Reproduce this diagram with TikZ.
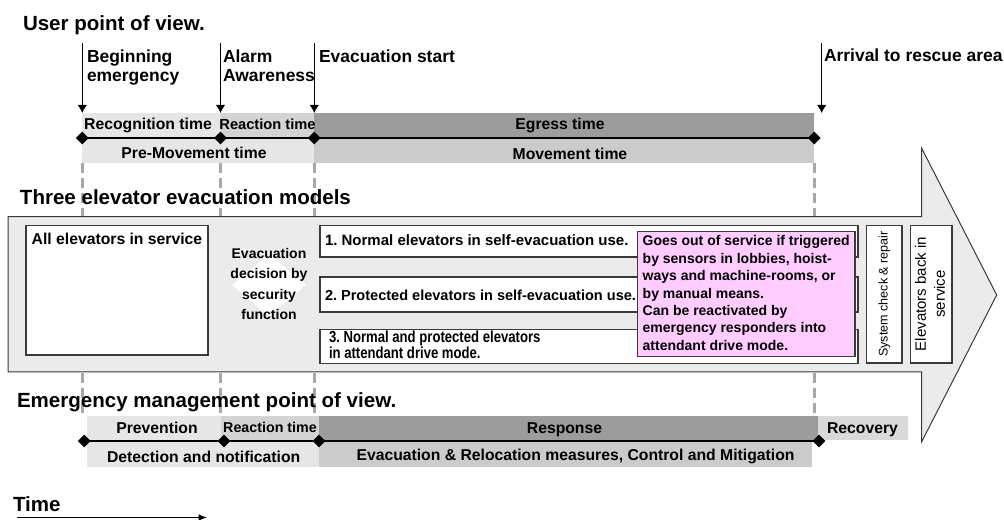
\documentclass[tikz,border=0pt]{standalone}
\usepackage{fontspec}
\setmainfont{Liberation Sans}
\newfontfamily\narrowsans[FakeStretch=0.82]{Liberation Sans}
\usetikzlibrary{shapes.geometric,arrows.meta}
\definecolor{bandL}{HTML}{E6E6E6}
\definecolor{bandR}{HTML}{D3D3D3}
\definecolor{bandD}{HTML}{9C9C9C}
\definecolor{bandM}{HTML}{CBCBCB}
\definecolor{recov}{HTML}{D9D9D9}
\definecolor{arrowfill}{HTML}{EBEBEB}
\definecolor{guidegray}{HTML}{A8A8A8}
\definecolor{pinkfill}{HTML}{FFCCFF}
\definecolor{edgegray}{HTML}{3A3A3A}
\frenchspacing
\newcommand\Lstk[1]{\vtop{\halign{##\hfil\cr#1\crcr}}}
\newcommand\Cstk[1]{\vtop{\halign{\hfil##\hfil\cr#1\crcr}}}
\newcommand\fTitle{\fontsize{15.4pt}{18pt}\selectfont\bfseries}
\newcommand\fTop{\fontsize{13.1pt}{13.9pt}\selectfont\bfseries}
\newcommand\fBand{\fontsize{11.8pt}{14pt}\selectfont\bfseries}
\newcommand\fReact{\fontsize{11pt}{13pt}\selectfont\bfseries}
\newcommand\fBox{\fontsize{11.25pt}{13pt}\selectfont\bfseries}
\newcommand\fBoxB{\fontsize{10.9pt}{13pt}\selectfont\bfseries}
\newcommand\fDia{\fontsize{10.5pt}{15.4pt}\selectfont\bfseries}
\newcommand\fPink{\fontsize{10.5pt}{13.05pt}\selectfont\bfseries}
\newcommand\fNarrow{\narrowsans\fontsize{12pt}{11.7pt}\selectfont\bfseries}
\newcommand\fRotA{\fontsize{9.4pt}{12pt}\selectfont}
\newcommand\fRotB{\fontsize{11.25pt}{14.25pt}\selectfont}
\begin{document}
\begin{tikzpicture}[x=0.75pt,y=-0.75pt,
  txt/.style={inner sep=0pt,outer sep=0pt},
  gdash/.style={guidegray,line width=2.4pt,dash pattern=on 7.5pt off 3.75pt},
  hline/.style={black,line width=1.5pt},
  mk/.style={diamond,fill=black,inner sep=0pt,minimum width=9.75pt,minimum height=9.75pt},
  varr/.style={black,line width=0.75pt,-{Latex[length=6pt,width=7pt]}},
  boxst/.style={draw=edgegray,fill=white,line width=1.1pt},
  bigarrow/.style={draw=edgegray,fill=arrowfill,line width=0.75pt}]
\useasboundingbox (0,0) rectangle (1004,520);

% guide lines
\foreach \xx in {82.3,220.5,314.3,814.3}
  \draw[gdash] (\xx,163) -- (\xx,416);

% upper bands
\fill[bandL] (82.3,113) rectangle (220.5,138);
\fill[bandR] (220.5,113) rectangle (314.3,138);
\fill[bandD] (314.3,113) rectangle (814.3,138);
\fill[bandL] (82.3,138) rectangle (314.3,163.3);
\fill[bandM] (314.3,138) rectangle (814.3,163.3);

% lower bands
\fill[bandL] (87.3,416) rectangle (220.5,441);
\fill[bandR] (220.5,416) rectangle (318.5,441);
\fill[bandD] (318.5,416) rectangle (818.3,441);
\fill[recov] (818.3,416) rectangle (908.3,440);
\fill[bandL] (87.3,441) rectangle (318.5,466.7);
\fill[bandM] (318.5,441) rectangle (812.3,466.7);

% upper timeline
\node[mk] (u1) at (82.3,138) {};
\node[mk] (u2) at (220.5,138) {};
\node[mk] (u3) at (314.3,138) {};
\node[mk] (u4) at (814.3,138) {};
\draw[hline] (u1.center) -- (u4.center);

% lower timeline
\node[mk] (l1) at (84.3,441) {};
\node[mk] (l2) at (224,441) {};
\node[mk] (l3) at (319,441) {};
\node[mk] (l4) at (819,441) {};
\draw[hline] (l1.center) -- (l4.center);

% event arrows
\coordinate (s1) at (82.3,43);  \coordinate (e1) at (82.3,113);
\coordinate (s2) at (220.5,43); \coordinate (e2) at (220.5,113);
\coordinate (s3) at (314.3,43); \coordinate (e3) at (314.3,113);
\coordinate (s4) at (821.7,43); \coordinate (e4) at (821.7,113);
\draw[varr] (s1) -- (e1);
\draw[varr] (s2) -- (e2);
\draw[varr] (s3) -- (e3);
\draw[varr] (s4) -- (e4);

% big arrow
\draw[bigarrow] (8,216.7) -- (921.7,216.7) -- (921.7,148.3) -- (996.7,295)
  -- (921.7,441.7) -- (921.7,372) -- (8,372) -- cycle;

% boxes
\draw[boxst] (26,225.7) rectangle (208,355);
\fill[white] (232,285) -- (269,254) -- (306,285) -- (269,316) -- cycle;
\draw[boxst] (320,225.7) rectangle (858,257);
\draw[boxst] (320,277) rectangle (858,312);
\draw[boxst] (320,329.5) rectangle (858,363.3);
\node[txt,anchor=base west] (x1) at (325,246) {\fBox 1. Normal elevators in self-evacuation use.};
\node[txt,anchor=base west] (x2) at (325,300.7) {\fBoxB 2. Protected elevators in self-evacuation use.};
\node[txt,anchor=base west] (x3) at (329,342.7) {\fNarrow\Lstk{3. Normal and protected elevators\cr in attendant drive mode.}};
\draw[draw=edgegray,fill=pinkfill,line width=0.9pt] (637.7,231.7) rectangle (855,356.7);
\draw[boxst] (866.7,225.7) rectangle (902,363);
\draw[boxst] (910.5,225.7) rectangle (952,363);

% titles
\node[txt,anchor=base west] (tUser) at (23,31) {\fTitle User point of view.};
\node[txt,anchor=base west] (tThree) at (20,205) {\fTitle Three elevator evacuation models};
\node[txt,anchor=base west] (tEmer) at (17,407) {\fTitle Emergency management point of view.};
\node[txt,anchor=base west] (tTime) at (13,511) {\fTitle Time};

% event labels
\node[txt,anchor=base west] (lBeg) at (87,62.5) {\fTop\Lstk{Beginning\cr emergency}};
\node[txt,anchor=base west] (lAlarm) at (223,62.5) {\fTop\Lstk{Alarm\cr Awareness}};
\node[txt,anchor=base west] (lEvac) at (319,62.5) {\fTop Evacuation start};
\node[txt,anchor=base west] (lArr) at (824,62) {\fTop Arrival to rescue area};

% upper band labels
\node[txt,anchor=base] (bRec) at (148,129.3) {\fBand Recognition time};
\node[txt,anchor=base] (bReact) at (267.5,129.5) {\fReact Reaction time};
\node[txt,anchor=base] (bEgr) at (560,130) {\fBand Egress time};
\node[txt,anchor=base] (bPre) at (194,159) {\fBand Pre-Movement time};
\node[txt,anchor=base] (bMov) at (570,159.3) {\fBand Movement time};

% lower band labels
\node[txt,anchor=base] (bPrev) at (157,434) {\fBand Prevention};
\node[txt,anchor=base] (bReact2) at (270,432.3) {\fontsize{10.7pt}{13pt}\selectfont\bfseries Reaction time};
\node[txt,anchor=base] (bResp) at (564.5,434) {\fBand Response};
\node[txt,anchor=base] (bRecov) at (862.5,434) {\fBand Recovery};
\node[txt,anchor=base] (bDet) at (203.7,462) {\fBand Detection and notification};
\node[txt,anchor=base] (bEvr) at (575.5,460) {\fBand Evacuation \& Relocation measures, Control and Mitigation};

% box texts
\node[txt,anchor=base west] (xAll) at (31.7,245) {\fBand All elevators in service};
\node[txt,anchor=base] (xDec) at (269,258.3) {\fDia\Cstk{Evacuation\cr decision by\cr security\cr function}};
\node[txt,anchor=base west] (xPink) at (642.7,246) {\fPink\Lstk{Goes out of service if triggered\cr by sensors in lobbies, hoist-\cr ways and machine-rooms, or\cr by manual means.\cr Can be reactivated by\cr emergency responders into\cr attendant drive mode.}};
\node[txt,rotate=90] (xSys) at (884.3,294) {\fRotA System check \& repair};
\node[txt,rotate=90] (xBack) at (930,294) {\fRotB\Cstk{Elevators back in\cr service}};

% time arrow
\coordinate (ta) at (16.7,517.5);
\coordinate (tb) at (206.7,517.5);
\draw[black,line width=0.75pt,-{Latex[length=6pt,width=5pt]}] (ta) -- (tb);
\end{tikzpicture}
\end{document}
